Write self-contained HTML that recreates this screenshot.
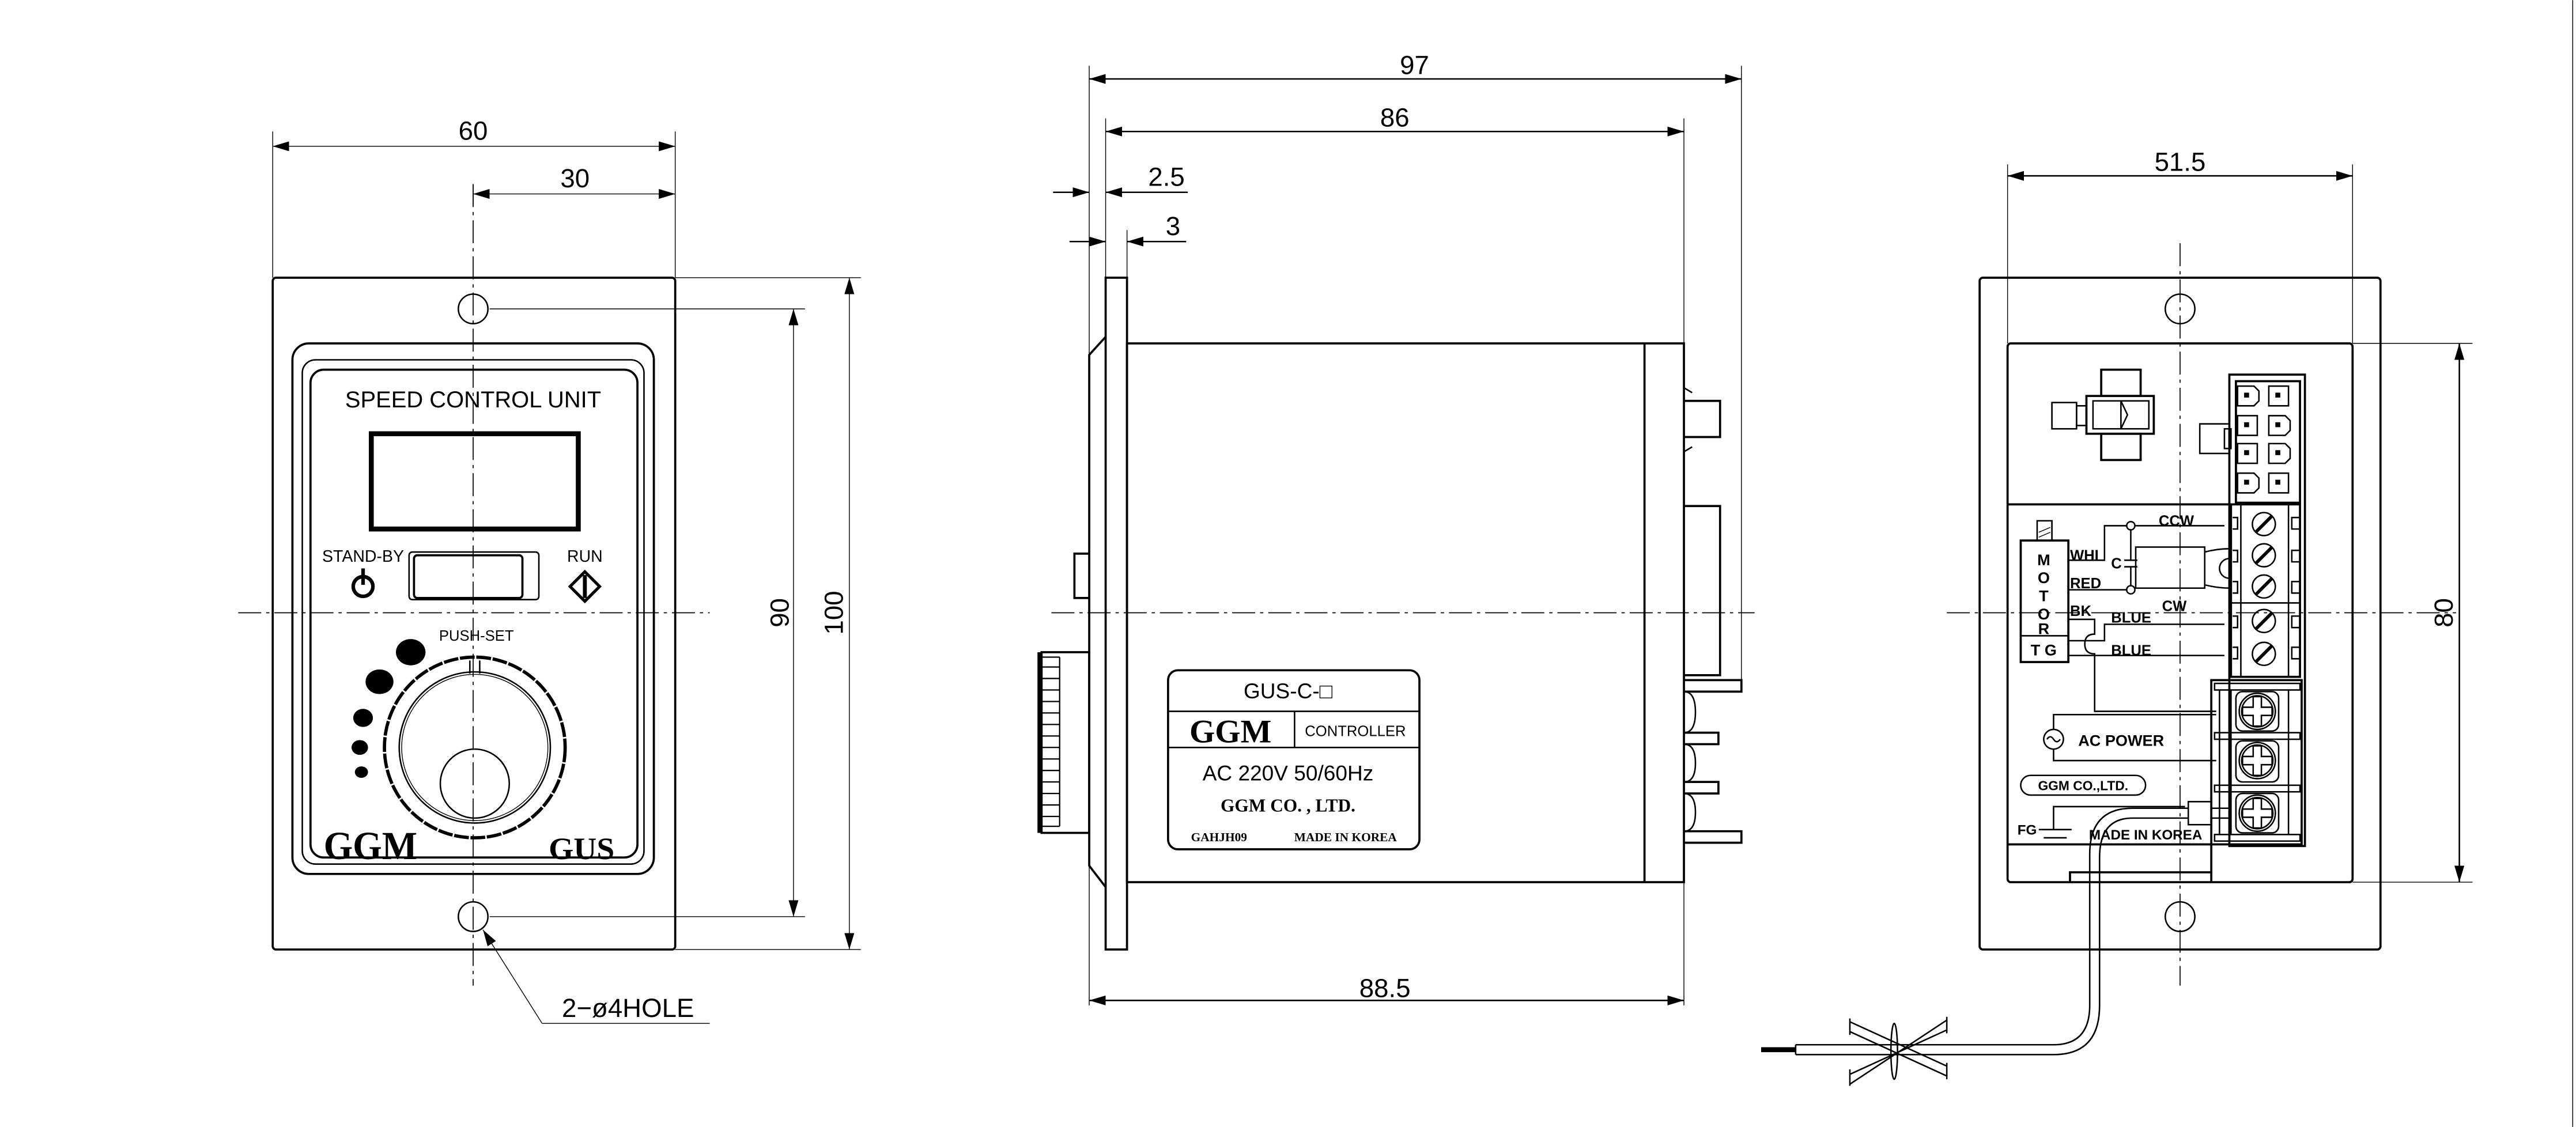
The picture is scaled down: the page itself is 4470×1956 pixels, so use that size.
<!DOCTYPE html>
<html><head><meta charset="utf-8"><style>
html,body{margin:0;padding:0;background:#fff;}
svg{display:block;}
text{font-family:"Liberation Sans",sans-serif;fill:#000;}
.d{font-family:"Liberation Sans Narrow","Liberation Sans",sans-serif;font-size:16px;}
.b{fill:none;stroke:#000;stroke-width:1.3;}
.m{fill:none;stroke:#000;stroke-width:0.9;}
.t{fill:none;stroke:#000;stroke-width:0.5;}
.c{fill:none;stroke:#000;stroke-width:0.6;stroke-dasharray:14 3 2 3;}
.serif{font-family:"Liberation Serif",serif;font-weight:bold;}
</style></head><body>
<svg width="4470" height="1956" viewBox="0 0 1568 686" xmlns="http://www.w3.org/2000/svg">
<defs>
<marker id="a" viewBox="0 0 10 6" refX="10" refY="3" markerWidth="10" markerHeight="6" markerUnits="userSpaceOnUse" orient="auto-start-reverse"><path d="M0,0L10,3L0,6z" fill="#000"/></marker>
<path id="ph" d="M-9,-2.5h6.5v-6.5h5v6.5h6.5v5h-6.5v6.5h-5v-6.5h-6.5z" fill="none" stroke="#000" stroke-width="0.9"/>
</defs>

<!-- ============ LEFT VIEW ============ -->
<rect x="166" y="169" width="245" height="409" rx="2" class="b"/>
<circle cx="288" cy="188" r="9" class="m"/>
<circle cx="288" cy="558" r="9" class="m"/>
<line x1="288" y1="112" x2="288" y2="600" class="c"/>
<line x1="145" y1="373" x2="432" y2="373" class="c"/>
<rect x="178" y="209" width="220" height="323" rx="10" class="b" stroke-width="1.6"/>
<rect x="184" y="219" width="208" height="307" rx="8" class="m"/>
<rect x="189" y="225" width="199" height="297" rx="8" class="b"/>
<text x="288" y="248" font-size="14" text-anchor="middle">SPEED CONTROL UNIT</text>
<rect x="226" y="264" width="126" height="58" fill="none" stroke="#000" stroke-width="3"/>
<text x="221" y="342" font-size="10" text-anchor="middle">STAND-BY</text>
<circle cx="221" cy="357" r="6" fill="none" stroke="#000" stroke-width="2.2"/>
<line x1="221" y1="346" x2="221" y2="356" stroke="#000" stroke-width="2.2"/>
<rect x="249" y="336" width="79" height="29" rx="2" class="m"/>
<rect x="252" y="338" width="66" height="26" rx="2" class="b"/>
<text x="356" y="342" font-size="10" text-anchor="middle">RUN</text>
<path d="M356,348L365,357L356,366L347,357Z" fill="none" stroke="#000" stroke-width="1.8"/>
<line x1="356" y1="350" x2="356" y2="364" stroke="#000" stroke-width="2.4"/>
<text x="290" y="390" font-size="9" text-anchor="middle">PUSH-SET</text>
<ellipse cx="250" cy="397" rx="9" ry="8" fill="#000"/>
<ellipse cx="231" cy="415" rx="8.5" ry="7.5" fill="#000"/>
<ellipse cx="221" cy="437" rx="6" ry="5.5" fill="#000"/>
<ellipse cx="219" cy="455" rx="5" ry="4.5" fill="#000"/>
<ellipse cx="220" cy="470" rx="4" ry="3.5" fill="#000"/>
<circle cx="289" cy="455" r="55" fill="none" stroke="#000" stroke-width="2" stroke-dasharray="9 1"/>
<circle cx="289" cy="455" r="46" class="m"/>
<circle cx="289" cy="455" r="44.5" class="t"/>
<path d="M286,402v8M292,402v8" class="m"/>
<circle cx="289" cy="477" r="21" class="m"/>
<text x="197" y="523" font-size="24" class="serif" textLength="57" lengthAdjust="spacingAndGlyphs">GGM</text>
<text x="334" y="523" font-size="19" class="serif" textLength="40" lengthAdjust="spacingAndGlyphs">GUS</text>
<!-- dims left -->
<line x1="166" y1="80" x2="166" y2="169" class="t"/>
<line x1="411" y1="80" x2="411" y2="169" class="t"/>
<line x1="288" y1="112" x2="288" y2="125" class="t"/>
<line x1="166" y1="89" x2="411" y2="89" class="t" marker-start="url(#a)" marker-end="url(#a)"/>
<text x="288" y="85" class="d" text-anchor="middle">60</text>
<line x1="288" y1="118" x2="411" y2="118" class="t" marker-start="url(#a)" marker-end="url(#a)"/>
<text x="350" y="114" class="d" text-anchor="middle">30</text>
<line x1="298" y1="188" x2="490" y2="188" class="t"/>
<line x1="298" y1="558" x2="490" y2="558" class="t"/>
<line x1="411" y1="169" x2="524" y2="169" class="t"/>
<line x1="411" y1="578" x2="524" y2="578" class="t"/>
<line x1="483" y1="188" x2="483" y2="558" class="t" marker-start="url(#a)" marker-end="url(#a)"/>
<text transform="translate(480,373) rotate(-90)" class="d" text-anchor="middle">90</text>
<line x1="517" y1="169" x2="517" y2="578" class="t" marker-start="url(#a)" marker-end="url(#a)"/>
<text transform="translate(513,373) rotate(-90)" class="d" text-anchor="middle">100</text>
<polyline points="330,623 294,566" class="t" marker-end="url(#a)"/>
<line x1="330" y1="623" x2="432" y2="623" class="t"/>
<text x="342" y="619" class="d">2−ø4HOLE</text>

<!-- ============ MIDDLE VIEW ============ -->
<rect x="673" y="169" width="13" height="409" class="b"/>
<rect x="686" y="209" width="339" height="328" class="b"/>
<line x1="1001" y1="209" x2="1001" y2="537" class="b"/>
<path d="M673,205L663,216V527L673,540" class="b"/>
<path d="M663,337H654V364H663" class="b"/>
<rect x="634" y="397" width="29" height="110" class="b"/>
<g stroke="#000" stroke-width="0.8" fill="none">
<path d="M634,400h11M634,406h11M634,413h11M634,420h11M634,427h11M634,434h11M634,441h11M634,448h11M634,455h11M634,462h11M634,469h11M634,476h11M634,483h11M634,490h11M634,497h11M634,503h11"/>
<line x1="645" y1="400" x2="645" y2="503"/>
</g>
<line x1="633" y1="397" x2="633" y2="507" stroke="#000" stroke-width="3"/>
<path d="M1025,244H1047V266H1025" class="b"/>
<path d="M1025,308H1047V411H1025" class="b"/>
<path d="M1025,236l5,3M1025,275l5,-3" class="m"/>
<path d="M1025,414H1060V421H1025" class="b"/>
<path d="M1025,446H1046V453H1025" class="b"/>
<path d="M1025,476H1046V483H1025" class="b"/>
<path d="M1025,506H1060V513H1025" class="b"/>
<path d="M1025,421q7,0 7,12.5t-7,12.5M1025,453q7,0 7,11.5t-7,11.5M1025,483q7,0 7,11.5t-7,11.5" class="m"/>
<rect x="711" y="408" width="153" height="109" rx="6" class="b"/>
<line x1="711" y1="433" x2="864" y2="433" class="m"/>
<line x1="711" y1="455" x2="864" y2="455" class="m"/>
<line x1="788" y1="433" x2="788" y2="455" class="m"/>
<text x="784" y="425" font-size="13" text-anchor="middle">GUS-C-□</text>
<text x="749" y="452" font-size="20" text-anchor="middle" class="serif">GGM</text>
<text x="825" y="448" font-size="9" text-anchor="middle">CONTROLLER</text>
<text x="784" y="475" font-size="13" text-anchor="middle">AC 220V 50/60Hz</text>
<text x="784" y="494" font-size="11" text-anchor="middle" class="serif">GGM CO. , LTD.</text>
<text x="742" y="512" font-size="7.5" text-anchor="middle" class="serif">GAHJH09</text>
<text x="819" y="512" font-size="7.5" text-anchor="middle" class="serif">MADE IN KOREA</text>
<line x1="640" y1="373" x2="1068" y2="373" class="c"/>
<line x1="663" y1="40" x2="663" y2="612" class="t"/>
<line x1="1060" y1="40" x2="1060" y2="414" class="t"/>
<line x1="673" y1="72" x2="673" y2="169" class="t"/>
<line x1="686" y1="140" x2="686" y2="169" class="t"/>
<line x1="1025" y1="72" x2="1025" y2="612" class="t"/>
<line x1="663" y1="48" x2="1060" y2="48" class="m" marker-start="url(#a)" marker-end="url(#a)"/>
<text x="861" y="45" class="d" text-anchor="middle">97</text>
<line x1="673" y1="80" x2="1025" y2="80" class="m" marker-start="url(#a)" marker-end="url(#a)"/>
<text x="849" y="77" class="d" text-anchor="middle">86</text>
<line x1="641" y1="117" x2="663" y2="117" class="m" marker-end="url(#a)"/>
<line x1="673" y1="117" x2="723" y2="117" class="m" marker-start="url(#a)"/>
<text x="710" y="113" class="d" text-anchor="middle">2.5</text>
<line x1="651" y1="147" x2="673" y2="147" class="m" marker-end="url(#a)"/>
<line x1="686" y1="147" x2="722" y2="147" class="m" marker-start="url(#a)"/>
<text x="714" y="143" class="d" text-anchor="middle">3</text>
<line x1="663" y1="609" x2="1025" y2="609" class="m" marker-start="url(#a)" marker-end="url(#a)"/>
<text x="843" y="607" class="d" text-anchor="middle">88.5</text>

<!-- ============ RIGHT VIEW ============ -->
<rect x="1205" y="169" width="244" height="409" rx="2" class="b"/>
<circle cx="1327" cy="188" r="9" class="m"/>
<circle cx="1327" cy="558" r="9" class="m"/>
<rect x="1222" y="209" width="210" height="328" rx="2" class="b"/>
<line x1="1222" y1="307" x2="1357" y2="307" class="b"/>
<line x1="1222" y1="514" x2="1346" y2="514" class="b"/>
<path d="M1260,537V531H1346" class="b"/>
<line x1="1346" y1="514" x2="1346" y2="537" class="b"/>
<rect x="1270" y="241" width="41" height="23" class="b"/>
<rect x="1279" y="225" width="24" height="16" class="b"/>
<rect x="1279" y="264" width="24" height="16" class="b"/>
<rect x="1249" y="245" width="15" height="16" class="m"/>
<rect x="1264" y="247" width="6" height="12" class="m"/>
<path d="M1274,244H1291L1295,252.5L1291,261H1274Z" class="m"/>
<rect x="1291" y="244" width="17" height="17" class="m"/>
<rect x="1357" y="228" width="46" height="287" class="b"/>
<rect x="1361" y="232" width="39" height="74" class="b"/>
<rect x="1339" y="258" width="18" height="18" class="m"/>
<rect x="1354" y="261" width="4" height="12" class="m"/>
<g class="m">
<path d="M1362,235h10l3,3v6l-3,3h-10z"/><rect x="1381" y="235" width="12" height="12"/>
<rect x="1362" y="253" width="12" height="12"/><path d="M1381,253h10l3,3v6l-3,3h-10z"/>
<rect x="1362" y="270" width="12" height="12"/><path d="M1381,270h10l3,3v6l-3,3h-10z"/>
<path d="M1362,288h10l3,3v6l-3,3h-10z"/><rect x="1381" y="288" width="12" height="12"/>
</g>
<g fill="#000"><rect x="1366" y="239" width="3" height="3"/><rect x="1385" y="239" width="3" height="3"/><rect x="1366" y="257" width="3" height="3"/><rect x="1385" y="257" width="3" height="3"/><rect x="1366" y="274" width="3" height="3"/><rect x="1385" y="274" width="3" height="3"/><rect x="1366" y="292" width="3" height="3"/><rect x="1385" y="292" width="3" height="3"/></g>
<rect x="1358" y="307" width="42" height="105" class="b"/>
<line x1="1364" y1="307" x2="1364" y2="412" class="m"/>
<line x1="1393" y1="307" x2="1393" y2="412" class="m"/>
<line x1="1358" y1="367" x2="1400" y2="367" class="m"/>
<g class="m">
<circle cx="1378" cy="319" r="7"/><circle cx="1378" cy="338" r="7"/><circle cx="1378" cy="357" r="7"/><circle cx="1378" cy="378" r="7"/><circle cx="1378" cy="398" r="7"/>
<path d="M1373,324l10,-10M1373,343l10,-10M1373,362l10,-10M1373,383l10,-10M1373,403l10,-10" stroke-width="2"/>
<path d="M1359,315h3v7h-3M1359,335h3v7h-3M1359,354h3v7h-3M1359,375h3v7h-3M1359,394h3v7h-3"/>
<path d="M1400,315h-5v7h5M1400,335h-5v7h5M1400,354h-5v7h5M1400,375h-5v7h5M1400,394h-5v7h5"/>
</g>
<rect x="1346" y="414" width="55" height="100" class="b"/>
<g class="m">
<rect x="1348" y="416" width="52" height="4"/><rect x="1348" y="446" width="52" height="4"/><rect x="1348" y="478" width="52" height="4"/><rect x="1348" y="508" width="52" height="4"/>
<line x1="1351" y1="420" x2="1351" y2="508"/><line x1="1358" y1="420" x2="1358" y2="508"/><line x1="1393" y1="420" x2="1393" y2="508"/>
<rect x="1361" y="421" width="26" height="24" rx="4"/><rect x="1361" y="451" width="26" height="25" rx="4"/><rect x="1361" y="483" width="26" height="24" rx="4"/>
<circle cx="1374" cy="433" r="11"/><circle cx="1374" cy="463" r="11"/><circle cx="1374" cy="495" r="11"/>
<circle cx="1374" cy="433" r="9.5"/><circle cx="1374" cy="463" r="9.5"/><circle cx="1374" cy="495" r="9.5"/>
</g>
<use href="#ph" x="1374" y="433"/><use href="#ph" x="1374" y="463"/><use href="#ph" x="1374" y="495"/>
<rect x="1230" y="329" width="29" height="74" class="b"/>
<line x1="1230" y1="387" x2="1259" y2="387" class="m"/>
<rect x="1240" y="317" width="9" height="12" class="m"/>
<path d="M1241,324l7,-3M1241,327l7,-3" class="t"/>
<g font-size="9.5" font-weight="bold" text-anchor="middle">
<text x="1244" y="344">M</text><text x="1244" y="355">O</text><text x="1244" y="366">T</text><text x="1244" y="377">O</text><text x="1244" y="386">R</text>
<text x="1244" y="399">T G</text>
</g>
<g font-size="9" font-weight="bold">
<text x="1260" y="341">WHI</text><text x="1260" y="358">RED</text><text x="1260" y="375">BK</text>
<text x="1285" y="379">BLUE</text><text x="1285" y="399">BLUE</text>
<text x="1314" y="320">CCW</text><text x="1316" y="372">CW</text><text x="1285" y="346">C</text>
<text x="1265" y="454" font-size="9.5">AC  POWER</text>
</g>
<g class="m">
<path d="M1259,341H1281V320H1354"/>
<path d="M1259,359H1297"/>
<circle cx="1297" cy="320" r="2.5" fill="#fff"/><circle cx="1297" cy="359" r="2.5" fill="#fff"/>
<path d="M1297,322.5V341M1297,345V356.5M1293,341h8M1293,345h8"/>
<rect x="1300" y="333" width="42" height="25"/>
<path d="M1342,336q8,-2 15,-2M1342,356q8,2 15,2"/>
<path d="M1357,332v28M1357,340a5,5 0 0 0 0,12"/>
<path d="M1259,377H1275V386q-6,0 -6,6q0,6 6,6V433H1349"/>
<path d="M1259,390H1281V380H1354"/>
<path d="M1259,399H1354"/>
<path d="M1250,450V435H1349M1250,450V463H1349"/>
<circle cx="1250" cy="450" r="6" fill="#fff"/>
<path d="M1246,450q2,-3 4,0t4,0"/>
<rect x="1230" y="472" width="76" height="12" rx="6"/>
<path d="M1250,505V491H1330"/>
<path d="M1241,505h20M1244,510h14M1247,514h8"/>
<rect x="1332" y="488" width="14" height="14"/>
<path d="M1346,492h12M1346,498h12"/>
</g>
<text x="1268" y="481" font-size="8" font-weight="bold" text-anchor="middle">GGM  CO.,LTD.</text>
<text x="1228" y="508" font-size="8.5" font-weight="bold">FG</text>
<text x="1306" y="511" font-size="8.5" font-weight="bold" text-anchor="middle">MADE IN KOREA</text>
<g class="m" stroke-width="1.1">
<path d="M1332,492H1298Q1272,492 1272,520V612Q1272,636 1250,636H1093"/>
<path d="M1332,498H1298Q1278,498 1278,522V612Q1278,642 1250,642H1093"/>
<path d="M1093,636V642"/>
<path d="M1126,622L1185,649M1126,628L1185,655M1126,654L1185,627M1126,660L1185,621M1126,620V630M1126,651V661M1185,619V629M1185,647V657"/>
<ellipse cx="1153" cy="640" rx="2" ry="17"/>
</g>
<line x1="1072" y1="639" x2="1093" y2="639" stroke="#000" stroke-width="3"/>
<line x1="1327" y1="148" x2="1327" y2="600" class="c"/>
<line x1="1185" y1="373" x2="1495" y2="373" class="c"/>
<line x1="1222" y1="100" x2="1222" y2="209" class="t"/>
<line x1="1432" y1="100" x2="1432" y2="209" class="t"/>
<line x1="1222" y1="107" x2="1432" y2="107" class="m" marker-start="url(#a)" marker-end="url(#a)"/>
<text x="1327" y="104" class="d" text-anchor="middle">51.5</text>
<line x1="1432" y1="209" x2="1505" y2="209" class="t"/>
<line x1="1432" y1="537" x2="1505" y2="537" class="t"/>
<line x1="1497" y1="209" x2="1497" y2="537" class="m" marker-start="url(#a)" marker-end="url(#a)"/>
<text transform="translate(1493,373) rotate(-90)" class="d" text-anchor="middle">80</text>
<line x1="1566" y1="0" x2="1566" y2="686" class="t"/>
</svg>
</body></html>
